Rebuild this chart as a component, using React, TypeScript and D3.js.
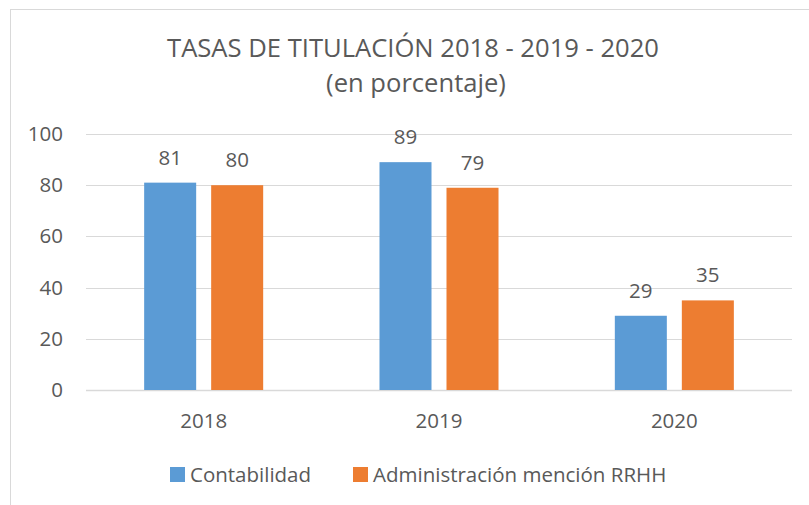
import React from "react";
import * as d3 from "d3";

const width = 809;
const height = 505;

const years = ["2018", "2019", "2020"];
const seriesNames = ["Contabilidad", "Administración mención RRHH"];
const contabilidad = [81, 89, 29];
const administracion = [80, 79, 35];
const yTicks = [0, 20, 40, 60, 80, 100];
const colors = ["#5b9bd5", "#ed7d31"];

const margin = { left: 86, right: 17, top: 134, bottom: 115 };
const textColor = "#595959";
const font = "'Open Sans', sans-serif";
const small = 20.5;
const big = 25.6;

export default function App() {
  const x = d3
    .scaleBand()
    .domain(years)
    .range([margin.left, width - margin.right]);
  const y = d3
    .scaleLinear()
    .domain([0, 100])
    .range([height - margin.bottom, margin.top]);

  const barWidth = x.bandwidth() * 0.221;
  const gap = 15;
  const series = [contabilidad, administracion];

  const bars = years.flatMap((yr, i) => {
    const center = (x(yr) as number) + x.bandwidth() / 2;
    return series.map((vals, s) => {
      const left = s === 0 ? center - gap / 2 - barWidth : center + gap / 2;
      return {
        key: `${yr}-${s}`,
        x: left,
        y: y(vals[i]),
        h: y(0) - y(vals[i]),
        fill: colors[s],
        label: vals[i],
      };
    });
  });

  return (
    <svg
      width={width}
      height={height}
      style={{ position: "absolute", left: 0, top: 0 }}
      fontFamily={font}
    >
      <rect width={width} height={height} fill="#fff" />
      <rect x={10.5} y={9.5} width={820} height={520} fill="none" stroke="#d9d9d9" />

      <text x={413} y={57} textAnchor="middle" fontSize={big} fill={textColor}>
        TASAS DE TITULACIÓN 2018 - 2019 - 2020
      </text>
      <text x={416} y={92} textAnchor="middle" fontSize={big} fill={textColor}>
        (en porcentaje)
      </text>

      {yTicks.map((t) => (
        <g key={t}>
          <line
            x1={margin.left}
            x2={width - margin.right}
            y1={Math.round(y(t)) + 0.5}
            y2={Math.round(y(t)) + 0.5}
            stroke="#d9d9d9"
            strokeWidth={t === 0 ? 1.5 : 1.2}
          />
          <text x={63} y={y(t) + 7} textAnchor="end" fontSize={small} fill={textColor}>
            {t}
          </text>
        </g>
      ))}

      {bars.map((b) => (
        <g key={b.key}>
          <rect x={b.x} y={b.y} width={barWidth} height={b.h} fill={b.fill} />
          <text
            x={b.x + barWidth / 2}
            y={b.y - 18}
            textAnchor="middle"
            fontSize={small}
            fill={textColor}
          >
            {b.label}
          </text>
        </g>
      ))}

      {years.map((yr) => (
        <text
          key={yr}
          x={(x(yr) as number) + x.bandwidth() / 2}
          y={428}
          textAnchor="middle"
          fontSize={small}
          fill={textColor}
        >
          {yr}
        </text>
      ))}

      <rect x={170} y={467} width={15} height={15} fill={colors[0]} />
      <text x={190} y={482} fontSize={small} fill={textColor}>
        {seriesNames[0]}
      </text>
      <rect x={353} y={467} width={15} height={15} fill={colors[1]} />
      <text x={373} y={482} fontSize={small} fill={textColor}>
        {seriesNames[1]}
      </text>
    </svg>
  );
}
